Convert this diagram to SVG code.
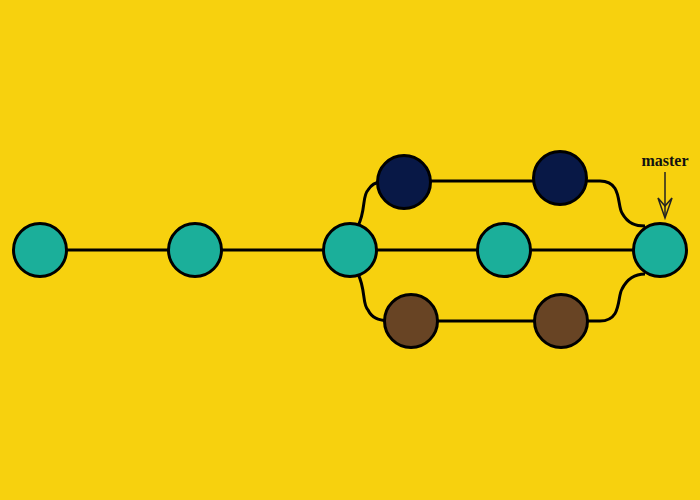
<svg xmlns="http://www.w3.org/2000/svg" width="700" height="500" viewBox="0 0 700 500">
  <defs>
    <style>
      .bg { fill: #F7D10E; }
      .edge { fill: none; stroke: #000; stroke-width: 3; }
      .node { stroke: #000; stroke-width: 3; }
      .teal { fill: #1BAF9A; }
      .navy { fill: #081846; }
      .brown { fill: #684424; }
      .label { font-family: "Liberation Serif", "Times New Roman", serif; font-weight: bold; font-size: 16px; fill: #111; }
      .ptr { fill: none; stroke: #222; stroke-width: 1.5; }
    </style>
  </defs>
  <rect class="bg" x="0" y="0" width="700" height="500"/>
  <g id="connectors">
    <path class="edge" d="M40,250 H660"/>
    <path class="edge" d="M358,226 C366,210 362,196 368,190 C372,184 375,183 380,182"/>
    <path class="edge" d="M404,181 H561"/>
    <path class="edge" d="M561,181 H600 C622,181 617,205 622,213 C628,224 636,226 645,226"/>
    <path class="edge" d="M358,274 C366,290 362,304 368,310 C372,318 378,320 388,321"/>
    <path class="edge" d="M411,321 H561"/>
    <path class="edge" d="M561,321 H600 C622,321 617,297 622,289 C628,277 636,274 645,274"/>
  </g>
  <g id="node1"><circle class="node teal" cx="40" cy="250" r="26.5"/></g>
  <g id="node2"><circle class="node teal" cx="195" cy="250" r="26.5"/></g>
  <g id="node3"><circle class="node teal" cx="350" cy="250" r="26.5"/></g>
  <g id="node4"><circle class="node teal" cx="504" cy="250" r="26.5"/></g>
  <g id="node5"><circle class="node teal" cx="660" cy="250" r="26.5"/></g>
  <g id="navy1"><circle class="node navy" cx="404" cy="182" r="26.5"/></g>
  <g id="navy2"><circle class="node navy" cx="560" cy="178" r="26.5"/></g>
  <g id="brown1"><circle class="node brown" cx="411" cy="321" r="26.5"/></g>
  <g id="brown2"><circle class="node brown" cx="561" cy="321" r="26.5"/></g>
  <g id="master">
    <text class="label" x="665" y="166" text-anchor="middle">master</text>
    <path class="ptr" d="M665,172 V216"/>
    <path class="ptr" d="M658,198 L665,218 L672,198 L665,206 Z"/>
  </g>
</svg>
